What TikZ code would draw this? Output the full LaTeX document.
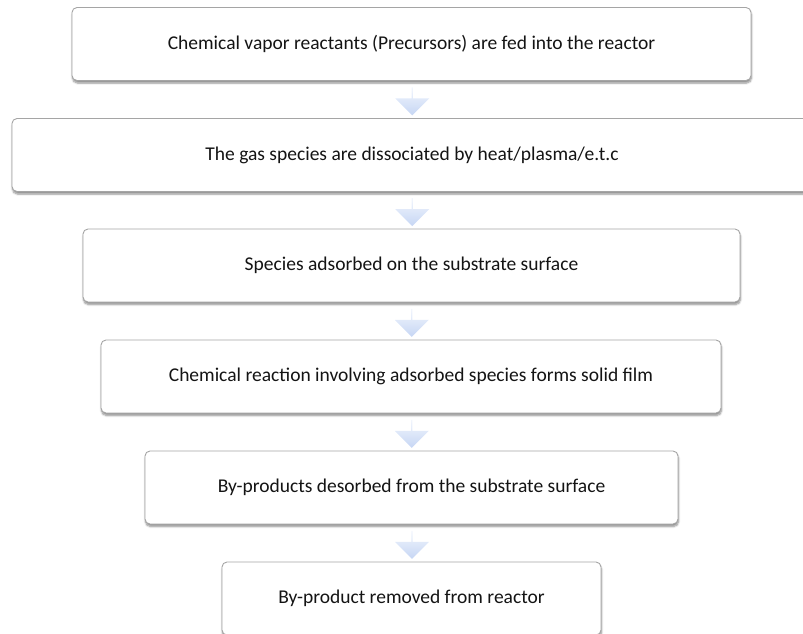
\documentclass[tikz,border=0pt]{standalone}
\usepackage{fontspec}
\setmainfont{Carlito}
\usepackage{xcolor}
\usepackage{tikz}
\usetikzlibrary{shapes.arrows, shadows.blur, calc}
\definecolor{boxline}{RGB}{165,165,165}
\definecolor{arrowtop}{RGB}{242,246,253}
\definecolor{arrowbottom}{RGB}{198,214,244}
\definecolor{textdark}{RGB}{20,20,20}

\tikzset{
    stepbox/.style={rectangle, rounded corners=5pt, draw=boxline, line width=0.9pt, fill=white, minimum height=73pt, text=textdark, font=\fontsize{19.5}{23}\selectfont, blur shadow={shadow xshift=0.5pt, shadow yshift=-2.5pt, shadow blur steps=6, shadow opacity=45}},
    downarrow/.style={single arrow, shape border rotate=270, minimum height=28pt, minimum width=34pt, single arrow head extend=6pt, inner sep=0pt, top color=arrowtop, bottom color=arrowbottom, draw=none}
}

\begin{document}
\begin{tikzpicture}[x=1pt, y=-1pt]
        \useasboundingbox (0,0) rectangle (803,634);

        % Steps
        \node[stepbox, minimum width=679pt] (feed) at (411.5,44) {Chemical vapor reactants (Precursors) are fed into the reactor};
        \node[stepbox, minimum width=800pt] (dissociate) at (412,155) {The gas species are dissociated by heat/plasma/e.t.c};
        \node[stepbox, minimum width=657pt] (adsorb) at (411.5,265.5) {Species adsorbed on the substrate surface};
        \node[stepbox, minimum width=620pt] (react) at (411,376.5) {Chemical reaction involving adsorbed species forms solid film};
        \node[stepbox, minimum width=533pt] (desorb) at (411.5,487.5) {By-products desorbed from the substrate surface};
        \node[stepbox, minimum width=379pt] (remove) at (411.5,598.5) {By-product removed from reactor};

        % Arrows
        \node[downarrow] (a1) at ($(feed.south)!0.5!(dissociate.north) + (0.5,1.5)$) {};
        \node[downarrow] (a2) at ($(dissociate.south)!0.5!(adsorb.north) + (0.5,1.5)$) {};
        \node[downarrow] (a3) at ($(adsorb.south)!0.5!(react.north) + (0.5,1.5)$) {};
        \node[downarrow] (a4) at ($(react.south)!0.5!(desorb.north) + (0.5,1.5)$) {};
        \node[downarrow] (a5) at ($(desorb.south)!0.5!(remove.north) + (0.5,1.5)$) {};
    \end{tikzpicture}
\end{document}
